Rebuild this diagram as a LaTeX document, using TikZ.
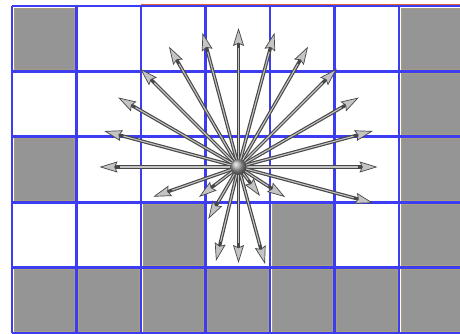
\documentclass[tikz,border=0pt]{standalone}
\usepackage{xcolor}
\usepackage{tikz}
\usetikzlibrary{arrows.meta, calc}
\definecolor{GridBlue}{HTML}{3C3CF2}
\definecolor{CellGray}{HTML}{959595}
\definecolor{CellEdge}{HTML}{A89C7E}
\definecolor{RayDark}{HTML}{474747}
\definecolor{RayLight}{HTML}{C4C4C4}
\definecolor{TopRed}{HTML}{E0603C}

\begin{document}
\begin{tikzpicture}[x=1pt, y=1pt,
    wall/.style={fill=CellGray, draw=CellEdge, line width=0.8pt},
    gridline/.style={draw=GridBlue, line width=2.8pt},
    ray/.style={draw=RayDark, line width=3.4pt,
        -{Stealth[length=18pt, width=11pt, inset=2.5pt, fill=RayLight, line width=0.7pt]},
        postaction={draw=RayLight, line width=1.1pt, -, shorten >=20pt}},
    hub/.style={circle, inner sep=0pt, minimum size=16pt, ball color=gray!75}
]
\useasboundingbox (0,0) rectangle (460,334);
\clip (0,0) rectangle (460,334);

% Occupied cells (col/row, row 0 on top)
\foreach \c/\r in {0/0,6/0,6/1,0/2,6/2,2/3,4/3,6/3,0/4,1/4,2/4,3/4,4/4,5/4,6/4}
  \draw[wall] ({12+64.5*\c+2}, {328-65.4*\r-2}) rectangle ({12+64.5*(\c+1)-2}, {328-65.4*(\r+1)+2});

% Grid
\foreach \i in {0,...,7}
  \draw[gridline] ({12+64.5*\i}, 1) -- ({12+64.5*\i}, 328);
\foreach \j in {0,...,5}
  \draw[gridline] (12, {328-65.4*\j}) -- (470, {328-65.4*\j});
\draw[TopRed, line width=0.5pt] (141,330.2) -- (460,330.2);

% Rays from the robot
\coordinate (c) at (238.5,167);
\foreach \a in {0,15,...,180}
  \coordinate (u\a) at ($(c)+(\a:139)$);
\coordinate (d1) at (153.3,137.3);
\coordinate (d2) at (199,137);
\coordinate (d3) at (208.3,115);
\coordinate (d4) at (216,73);
\coordinate (d5) at (238.5,71);
\coordinate (d6) at (265,70);
\coordinate (d7) at (260,138);
\coordinate (d8) at (285,137);
\coordinate (d9) at (373,131);

\foreach \a in {0,15,...,180}
  \draw[ray] (c) -- (u\a);
\foreach \k in {1,...,9}
  \draw[ray] (c) -- (d\k);

\node[hub] (robot) at (c) {};
\end{tikzpicture}
\end{document}
